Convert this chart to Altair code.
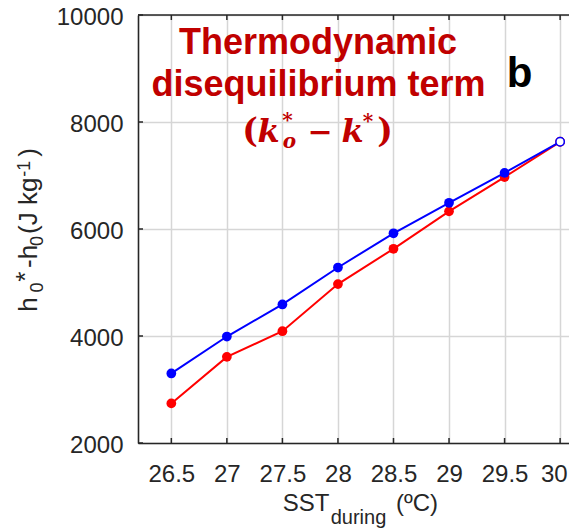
import altair as alt
import pandas as pd

# ---- data -------------------------------------------------------------
sst = [26.5, 27.0, 27.5, 28.0, 28.5, 29.0, 29.5, 30.0]
series_blue = [3300, 3990, 4590, 5280, 5920, 6490, 7050, 7630]
series_red = [2740, 3610, 4090, 4970, 5630, 6330, 6970, 7630]

x_ticks = [26.5, 27.0, 27.5, 28.0, 28.5, 29.0, 29.5, 30.0]
y_ticks = [2000, 4000, 6000, 8000, 10000]

# ---- layout / style -----------------------------------------------------
W, H = 431, 428
X_DOMAIN = [26.2, 30.08]
Y_DOMAIN = [2000, 10000]
INK = "#262626"
GRID = "#d6d6d6"
TITLE_RED = "#C00000"
BLUE = "#0000FF"
RED = "#FF0000"
SANS = "Liberation Sans"
SERIF = "DejaVu Serif"


def frame(values, series):
    return pd.DataFrame({
        "sst": sst,
        "value": values,
        "series": series,
        "hollow": [s == 30.0 for s in sst],
    })


blue_df = frame(series_blue, "blue")
red_df = frame(series_red, "red")
xt_df = pd.DataFrame({"sst": x_ticks})
yt_df = pd.DataFrame({"value": y_ticks})
one = pd.DataFrame({"k": [0]})

x_enc = alt.X(
    "sst:Q",
    scale=alt.Scale(domain=X_DOMAIN, nice=False, zero=False),
    axis=alt.Axis(
        values=x_ticks, format="~g", title=None,
        grid=True, gridColor=GRID, gridWidth=1.5,
        ticks=False, tickSize=0,
        domain=True, domainColor=INK, domainWidth=1.6,
        labelFont=SANS, labelFontSize=24, labelColor=INK,
        labelPadding=19, labelBaseline="top",
        labelFlush=10, labelFlushOffset=7, labelOverlap=False,
    ),
)
y_enc = alt.Y(
    "value:Q",
    scale=alt.Scale(domain=Y_DOMAIN, nice=False, zero=False),
    axis=alt.Axis(
        values=y_ticks, format="d", title=None,
        grid=True, gridColor=GRID, gridWidth=1.5,
        ticks=False, tickSize=0,
        domain=True, domainColor=INK, domainWidth=1.6,
        labelFont=SANS, labelFontSize=24, labelColor=INK,
        labelPadding=15, labelOffset=2, labelOverlap=False,
    ),
)


def series_layers(df, color):
    base = alt.Chart(df).encode(x=x_enc, y=y_enc)
    line = base.mark_line(color=color, strokeWidth=2)
    dots = base.transform_filter("!datum.hollow").mark_point(
        filled=True, color=color, size=95, opacity=1
    )
    ring = base.transform_filter("datum.hollow").mark_point(
        filled=False, fill="white", color=color, size=70,
        strokeWidth=1.5, opacity=1,
    )
    return [line, dots, ring]


# inward tick marks on the bottom, top and left edges, plus the top frame line
ticks_bottom = alt.Chart(xt_df).mark_rule(color=INK, strokeWidth=1.5).encode(
    x=x_enc, y=alt.value(H), y2=alt.value(H - 5)
)
ticks_top = alt.Chart(xt_df).mark_rule(color=INK, strokeWidth=1.5).encode(
    x=x_enc, y=alt.value(0), y2=alt.value(5)
)
ticks_left = alt.Chart(yt_df).mark_rule(color=INK, strokeWidth=1.5).encode(
    y=y_enc, x=alt.value(0), x2=alt.value(5)
)
top_frame = alt.Chart(one).mark_rule(color=INK, strokeWidth=1.6).encode(
    x=alt.value(0), x2=alt.value(W), y=alt.value(0)
)


def label(text, x, y, size, font=SANS, color=INK, weight="normal",
          style="normal", align="left", angle=0):
    return alt.Chart(one).mark_text(
        text=text, font=font, fontSize=size, fontWeight=weight,
        fontStyle=style, color=color, align=align,
        baseline="alphabetic", angle=angle,
    ).encode(x=alt.value(x), y=alt.value(y))


texts = [
    # panel heading
    label("Thermodynamic", 180, 39.3, 36, color=TITLE_RED, weight="bold", align="center"),
    label("disequilibrium term", 180.5, 81, 36, color=TITLE_RED, weight="bold", align="center"),
    label("(", 112, 127, 33, font=SERIF, color=TITLE_RED, weight="bold", align="center"),
    label("k", 130.5, 126.5, 32, font=SERIF, color=TITLE_RED, weight="bold", style="italic", align="center"),
    label("*", 149.5, 112, 20, font=SERIF, color=TITLE_RED, weight="bold", align="center"),
    label("o", 151.5, 132.5, 20, font=SERIF, color=TITLE_RED, weight="bold", style="italic", align="center"),
    label("\u2212", 182, 126.5, 30, font=SERIF, color=TITLE_RED, weight="bold", align="center"),
    label("k", 214.5, 126.5, 32, font=SERIF, color=TITLE_RED, weight="bold", style="italic", align="center"),
    label("*", 230, 113, 20, font=SERIF, color=TITLE_RED, weight="bold", align="center"),
    label(")", 247, 127, 33, font=SERIF, color=TITLE_RED, weight="bold", align="center"),
    # panel letter
    label("b", 381.5, 72.3, 42, color="black", weight="bold", align="center"),
    # x-axis title
    label("SST", 144.7, 495.7, 24),
    label("during", 192.7, 509, 20),
    label("(\u00baC)", 258, 495.7, 24),
    # y-axis title (rotated, reading upward)
    label("h", -101.5, 296.7, 26, angle=270),
    label("0", -95, 277.5, 18, angle=270),
    label("*", -104, 266.7, 26, angle=270),
    label("-h", -101.5, 253, 26, angle=270),
    label("0", -95, 231, 18, angle=270),
    label("(J kg", -101.5, 219, 26, angle=270),
    label("-1", -108, 161.7, 18, angle=270),
    label(")", -101.5, 141.7, 26, angle=270),
]

chart = alt.layer(
    ticks_bottom, ticks_top, ticks_left, top_frame,
    *series_layers(red_df, RED),
    *series_layers(blue_df, BLUE),
    *texts,
).properties(
    width=W,
    height=H,
    autosize=alt.AutoSizeParams(type="none"),
    padding={"left": 138, "top": 15, "right": 0, "bottom": 88},
    background="white",
).configure_view(stroke=None)

chart.save("out.html", embed_options={"renderer": "svg", "actions": False})
